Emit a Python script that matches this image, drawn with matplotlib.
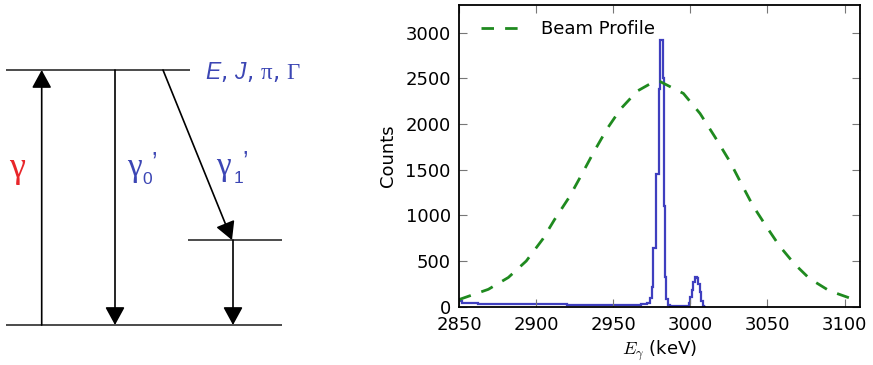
import matplotlib
matplotlib.use('Agg')
import matplotlib.pyplot as plt

plt.rcParams['font.family'] = ['DejaVu Sans']
plt.rcParams['mathtext.fontset'] = 'custom'
plt.rcParams['mathtext.rm'] = 'Liberation Sans'
plt.rcParams['mathtext.it'] = 'Liberation Sans:italic'
plt.rcParams['mathtext.sf'] = 'Liberation Serif'
plt.rcParams['lines.scale_dashes'] = False

# level scheme: relative excitation energy (ground = 0, excited = 1)
level_ground = 0.0
level_inter = 0.333
level_excited = 1.0

# measured spectrum, step histogram (bin edges in keV, counts per bin)
hist_edges = [2850, 2852, 2856, 2862, 2870, 2880, 2890, 2900, 2910, 2920,
              2930, 2940, 2950, 2960, 2968, 2972, 2974, 2975, 2976, 2978,
              2979.5, 2980, 2982.2, 2982.7, 2983.5, 2984.5, 2985.5, 2987,
              2992, 2996, 2999, 3000, 3001, 3002, 3003, 3004, 3005, 3006,
              3007, 3008, 3009, 3010]
hist_counts = [60, 45, 38, 35, 32, 30, 28, 27, 25, 24,
               22, 22, 20, 22, 30, 45, 100, 220, 640, 1450,
               2380, 2920, 2500, 1100, 320, 80, 15, 8,
               6, 10, 40, 110, 180, 270, 330, 310, 250, 160,
               60, 10, 0]

# beam profile
beam_energy = [2850, 2869, 2882, 2893.6, 2904.3, 2911.8, 2921.5, 2929, 2937.6,
               2946.1, 2954.8, 2965.5, 2976.2, 2980.5, 2995.5, 3006.3, 3015.9,
               3025.6, 3034.2, 3040.6, 3049.2, 3057.8, 3067.4, 3077.1, 3090,
               3105, 3110]
beam_counts = [78, 190, 320, 500, 740, 950, 1200, 1430, 1700,
               1950, 2165, 2360, 2462, 2464, 2335, 2115, 1860,
               1590, 1310, 1105, 880, 665, 470, 310, 175,
               85, 65]

x_ticks = [2850, 2900, 2950, 3000, 3050, 3100]
y_ticks = [0, 500, 1000, 1500, 2000, 2500, 3000]

blue_txt = '#3c46b4'
hist_blue = '#3f3fbf'
green = '#1f8a1f'

W, H = 873, 365
fig = plt.figure(figsize=(W / 100, H / 100), dpi=100)

# ---- left: level scheme, drawn in pixel units ----
axl = fig.add_axes([0, 0, 330 / W, 1])
axl.set_xlim(0, 330)
axl.set_ylim(H, 0)
axl.axis('off')

Y_GND, Y_EXC = 325, 70


def ypix(e):
    return Y_GND - (Y_GND - Y_EXC) * e


lc = '#1a1a1a'
axl.hlines(ypix(level_excited), 6, 190, color=lc, lw=1.1)
axl.hlines(ypix(level_inter), 188, 282, color=lc, lw=1.1)
axl.hlines(ypix(level_ground), 6, 282, color=lc, lw=1.1)


def arrow(x0, e0, x1, e1):
    axl.annotate('', xy=(x1, ypix(e1)), xytext=(x0, ypix(e0)),
                 arrowprops=dict(arrowstyle='-|>,head_length=1.1,head_width=0.6',
                                 mutation_scale=10, color='k', lw=1.2,
                                 shrinkA=0, shrinkB=0))


arrow(41.7, level_ground, 41.7, level_excited)
arrow(115, level_excited, 115, level_ground)
arrow(163, level_excited, 232, level_inter)
arrow(233, level_inter, 233, level_ground)

axl.text(205, 79, r'$E$, $J$, $\mathsf{\pi}$, $\mathsf{\Gamma}$', color=blue_txt,
         fontsize=16.5, ha='left', va='baseline')
axl.text(9, 177, '\u03b3', color='#e8262a', fontsize=26,
         family='Liberation Serif', ha='left', va='baseline')
axl.text(127, 176, '\u03b3', color=blue_txt, fontsize=24,
         family='Liberation Serif', ha='left', va='baseline')
axl.text(142, 184, '0', color=blue_txt, fontsize=12.5,
         family='Liberation Sans', ha='left', va='baseline')
axl.text(151, 170, '\u2019', color=blue_txt, fontsize=18,
         family='Liberation Sans', ha='left', va='baseline')
axl.text(216, 175, '\u03b3', color=blue_txt, fontsize=24,
         family='Liberation Serif', ha='left', va='baseline')
axl.text(234, 183, '1', color=blue_txt, fontsize=12.5,
         family='Liberation Sans', ha='left', va='baseline')
axl.text(242, 169, '\u2019', color=blue_txt, fontsize=18,
         family='Liberation Sans', ha='left', va='baseline')

# ---- right: spectrum ----
ax = fig.add_axes([459 / W, (H - 306.7) / H, (860 - 459) / W, (306.7 - 5.3) / H])
ax.stairs(hist_counts, hist_edges, color=hist_blue, lw=1.6, baseline=None)
ax.plot(beam_energy, beam_counts, color=green, lw=2.0, dashes=(9, 8),
        label='Beam Profile')

ax.set_xlim(2850, 3110)
ax.set_ylim(0, 3300)
ax.set_xticks(x_ticks)
ax.set_yticks(y_ticks)
ax.tick_params(direction='in', top=True, right=True, length=5.5, width=0.8,
               color='#777777', labelsize=13, pad=6)
ax.tick_params(axis='x', pad=7)
for s in ax.spines.values():
    s.set_linewidth(1.3)
ax.set_ylabel('Counts', fontsize=13, labelpad=6)
ax.set_xlabel(r'$E_\gamma$ (keV)', fontsize=13, labelpad=3, math_fontfamily='cm')
ax.legend(loc='upper left', bbox_to_anchor=(0.038, 0.9745), borderaxespad=0,
          frameon=False, fontsize=13, handlelength=2.1, handletextpad=1.2)

fig.savefig('out.png', dpi=100)
